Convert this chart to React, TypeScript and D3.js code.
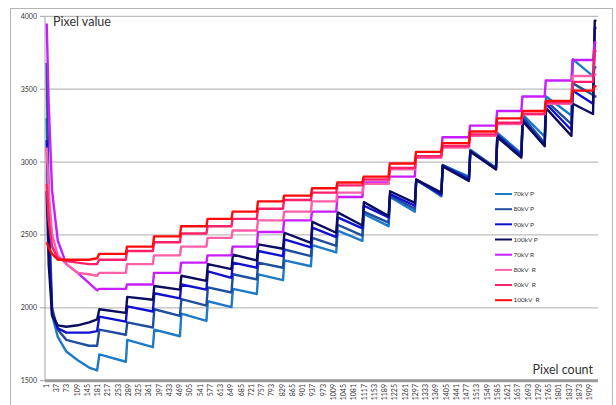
import React from 'react';
import * as d3 from 'd3';

const seriesNames = ['70kV P', '80kV P', '90kV P', '100kV P', '70kV R', '80kV  R', '90kV  R', '100kV  R'];
const seriesColors = ['#1d7ac6', '#1f4e9c', '#1010d0', '#0c0c5e', '#c81eff', '#ff5fa8', '#ff1f6a', '#ff0a0a'];

const xTickLabels = [1, 37, 73, 109, 145, 181, 217, 253, 289, 325, 361, 397, 433, 469, 505, 541, 577, 613, 649, 685, 721, 757, 793, 829, 865, 901, 937, 973, 1009, 1045, 1081, 1117, 1153, 1189, 1225, 1261, 1297, 1333, 1369, 1405, 1441, 1477, 1513, 1549, 1585, 1621, 1657, 1693, 1729, 1765, 1801, 1837, 1873, 1909];
const yTicks = [1500, 2000, 2500, 3000, 3500, 4000];

// pixel counts of the first, descending part
const initCounts = [1, 8, 20, 40, 70, 110, 150, 178];
// pixel counts where the detector tiles step
const stepCounts = [182, 280, 375, 470, 563, 651, 740, 832, 930, 1019, 1111, 1203, 1295, 1388, 1485, 1580, 1669, 1751, 1845];
const spikeCount = 1921;
const endCount = 1932;

// P series: initial values, tooth tops, tooth bottoms, final value
const p70Init = [3300, 2600, 1950, 1800, 1700, 1640, 1590, 1570];
const p70Tops = [1680, 1780, 1850, 1960, 2045, 2130, 2230, 2325, 2430, 2530, 2645, 2760, 2880, 2980, 3085, 3200, 3325, 3450, 3705];
const p70Bottoms = [1630, 1730, 1805, 1910, 2005, 2095, 2190, 2285, 2380, 2460, 2560, 2660, 2765, 2900, 2960, 3060, 3175, 3320, 3590];
const p70End = 3650;

const p80Init = [3680, 2700, 2000, 1850, 1780, 1760, 1740, 1740];
const p80Tops = [1850, 1900, 1990, 2060, 2140, 2230, 2310, 2400, 2480, 2570, 2660, 2770, 2880, 2980, 3080, 3190, 3310, 3420, 3540];
const p80Bottoms = [1815, 1865, 1945, 2015, 2105, 2195, 2275, 2355, 2425, 2495, 2585, 2680, 2770, 2890, 2960, 3050, 3130, 3260, 3460];
const p80End = 3450;

const p90Init = [3150, 2500, 1950, 1860, 1830, 1830, 1830, 1840];
const p90Tops = [1940, 2010, 2100, 2160, 2250, 2310, 2390, 2470, 2550, 2620, 2700, 2780, 2875, 2975, 3075, 3180, 3290, 3400, 3490];
const p90Bottoms = [1905, 1975, 2065, 2125, 2205, 2275, 2355, 2415, 2485, 2545, 2620, 2700, 2780, 2880, 2950, 3040, 3110, 3220, 3400];
const p90End = 3920;

const p100Init = [2800, 2300, 1950, 1880, 1870, 1880, 1900, 1920];
const p100Tops = [1990, 2075, 2150, 2220, 2300, 2365, 2435, 2515, 2590, 2655, 2725, 2800, 2880, 2970, 3070, 3170, 3280, 3370, 3400];
const p100Bottoms = [1965, 2055, 2125, 2185, 2265, 2325, 2405, 2445, 2515, 2565, 2630, 2720, 2790, 2870, 2950, 3030, 3110, 3180, 3330];
const p100End = 3970;

// R series: initial values, step levels, final value
const r70Init = [3950, 3400, 2800, 2460, 2300, 2240, 2170, 2120];
const r70Levels = [2130, 2160, 2240, 2310, 2360, 2420, 2520, 2600, 2660, 2760, 2860, 2900, 3040, 3170, 3250, 3350, 3450, 3560, 3700];
const r70End = 3820;

const r80Init = [3100, 2800, 2500, 2360, 2300, 2240, 2230, 2220];
const r80Levels = [2240, 2300, 2360, 2420, 2480, 2530, 2600, 2660, 2730, 2790, 2850, 2950, 3030, 3100, 3180, 3260, 3330, 3400, 3590];
const r80End = 3600;

const r90Init = [2850, 2600, 2420, 2340, 2320, 2310, 2300, 2300];
const r90Levels = [2330, 2390, 2450, 2510, 2560, 2610, 2680, 2740, 2790, 2840, 2880, 2960, 3040, 3110, 3190, 3270, 3330, 3410, 3550];
const r90End = 3760;

const r100Init = [2450, 2410, 2370, 2330, 2330, 2330, 2330, 2340];
const r100Levels = [2370, 2420, 2490, 2560, 2610, 2660, 2730, 2770, 2820, 2860, 2900, 2990, 3070, 3130, 3210, 3300, 3350, 3420, 3490];
const r100End = 3520;

type Pt = [number, number];

function buildP(init: number[], tops: number[], bottoms: number[], end: number): Pt[] {
  const pts: Pt[] = initCounts.map((n, i) => [n, init[i]] as Pt);
  stepCounts.forEach((n, k) => {
    const next = k + 1 < stepCounts.length ? stepCounts[k + 1] : spikeCount;
    pts.push([n + 4, tops[k]]);
    pts.push([next - 1, bottoms[k]]);
  });
  pts.push([spikeCount + 5, end]);
  pts.push([endCount, end]);
  return pts;
}

function buildR(init: number[], levels: number[], end: number): Pt[] {
  const pts: Pt[] = initCounts.map((n, i) => [n, init[i]] as Pt);
  stepCounts.forEach((n, k) => {
    const next = k + 1 < stepCounts.length ? stepCounts[k + 1] : spikeCount;
    pts.push([n + 3, levels[k]]);
    pts.push([next - 1, levels[k]]);
  });
  pts.push([spikeCount + 4, end]);
  pts.push([endCount, end]);
  return pts;
}

const seriesData: Pt[][] = [
  buildP(p70Init, p70Tops, p70Bottoms, p70End),
  buildP(p80Init, p80Tops, p80Bottoms, p80End),
  buildP(p90Init, p90Tops, p90Bottoms, p90End),
  buildP(p100Init, p100Tops, p100Bottoms, p100End),
  buildR(r70Init, r70Levels, r70End),
  buildR(r80Init, r80Levels, r80End),
  buildR(r90Init, r90Levels, r90End),
  buildR(r100Init, r100Levels, r100End),
];

const W = 616;
const H = 405;
const plotLeft = 45;
const plotRight = 598;
const font = 'Lato, "Open Sans", sans-serif';

export default function App() {
  const x = d3.scaleLinear().domain([1, 1936]).range([46.7, 597.6]);
  const y = d3.scaleLinear().domain([1500, 4000]).range([380.7, 16.3]);
  const line = d3
    .line<Pt>()
    .x((d) => x(d[0]))
    .y((d) => y(d[1]));

  const legendRows = [194, 209.2, 224.3, 239.5, 254.7, 269.9, 285, 300.2];

  return (
    <svg width={W} height={H} style={{ position: 'absolute', left: 0, top: 0, background: '#fff' }}>
      <rect x={0} y={0} width={W} height={H} fill="#fff" />
      <rect x={10.5} y={8.5} width={602} height={410} fill="none" stroke="#b4b4b4" strokeWidth={1} />
      {yTicks.slice(1).map((t) => (
        <line key={t} x1={plotLeft} x2={plotRight} y1={y(t)} y2={y(t)} stroke="#bcbcbc" strokeWidth={1.2} />
      ))}
      <line x1={plotLeft} x2={plotLeft} y1={y(4000)} y2={y(1500)} stroke="#a0a0a0" strokeWidth={1} />
      {yTicks.map((t) => (
        <g key={t}>
          <line x1={plotLeft - 5} x2={plotLeft} y1={y(t)} y2={y(t)} stroke="#a0a0a0" strokeWidth={1} />
          <text x={37} y={y(t)} dy="0.35em" textAnchor="end" fontSize={7} fontFamily={font} fill="#333">
            {t}
          </text>
        </g>
      ))}
      {seriesData.map((d, i) => (
        <path key={i} d={line(d) || ''} fill="none" stroke={seriesColors[i]} strokeWidth={2.4} strokeLinejoin="round" />
      ))}
      <line x1={plotLeft} x2={plotRight} y1={y(1500)} y2={y(1500)} stroke="#9a9a9a" strokeWidth={3} />
      {xTickLabels.map((t) => (
        <text
          key={t}
          transform={`translate(${x(t) + 2.3},384) rotate(-90)`}
          textAnchor="end"
          fontSize={7}
          fontFamily={font}
          fill="#333"
        >
          {t}
        </text>
      ))}
      <text x={53} y={26} fontSize={12.5} fontFamily={font} fill="#333">
        Pixel value
      </text>
      <text x={593} y={374} textAnchor="end" fontSize={12.5} fontFamily={font} fill="#333">
        Pixel count
      </text>
      {seriesNames.map((n, i) => (
        <g key={n}>
          <line x1={495} x2={512} y1={legendRows[i]} y2={legendRows[i]} stroke={seriesColors[i]} strokeWidth={2} />
          <text x={513.5} y={legendRows[i]} dy="0.35em" fontSize={6.5} fontFamily={font} fill="#333" style={{ whiteSpace: 'pre' }}>
            {n}
          </text>
        </g>
      ))}
    </svg>
  );
}
